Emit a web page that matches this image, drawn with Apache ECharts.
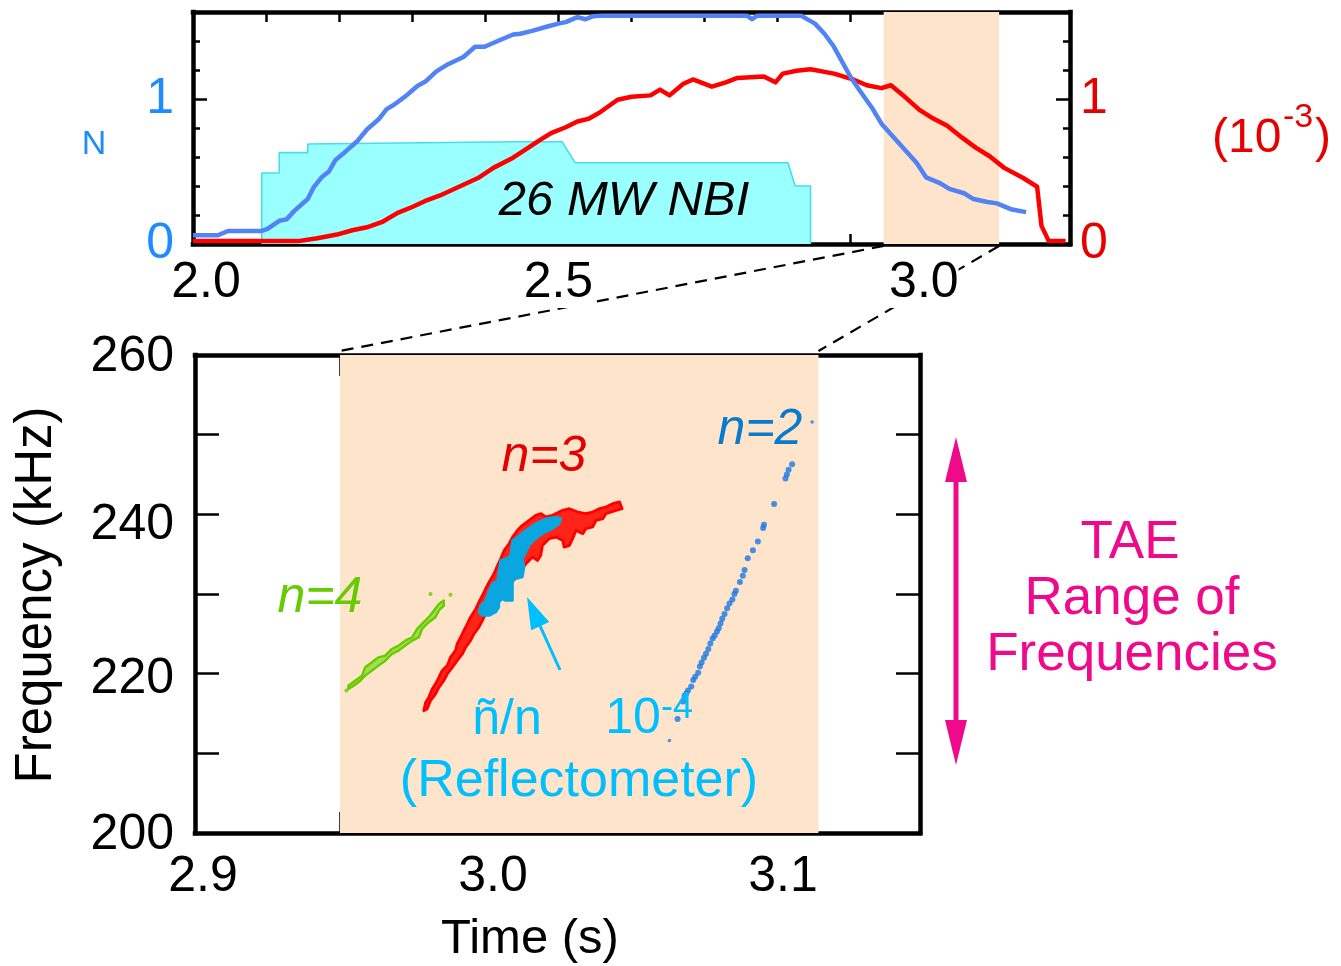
<!DOCTYPE html>
<html><head><meta charset="utf-8">
<script src="https://cdn.jsdelivr.net/npm/echarts@6.0.0/dist/echarts.min.js"></script>
<style>html,body{margin:0;padding:0;background:#fff}#c{width:1341px;height:966px}</style>
</head><body><div id="c"></div>
<script>
// ---------- DATA ----------
// Top panel: density N (left axis), red trace (right axis, 10^-3), NBI power outline
const densityTime = [2.000, 2.034, 2.048, 2.094, 2.102, 2.118, 2.128, 2.139, 2.157, 2.165, 2.176, 2.186, 2.195, 2.207, 2.225, 2.238, 2.254, 2.265, 2.275, 2.291, 2.307, 2.318, 2.333, 2.349, 2.370, 2.386, 2.399, 2.417, 2.438, 2.448, 2.464, 2.485, 2.500, 2.510, 2.526, 2.537, 2.547, 2.560, 2.620, 2.700, 2.758, 2.765, 2.772, 2.832, 2.851, 2.864, 2.877, 2.890, 2.900, 2.912, 2.929, 2.942, 2.958, 2.974, 2.990, 3.003, 3.022, 3.035, 3.055, 3.068, 3.087, 3.100, 3.119, 3.140];
const densityVal  = [0.06, 0.06, 0.09, 0.09, 0.105, 0.16, 0.17, 0.23, 0.31, 0.39, 0.46, 0.50, 0.58, 0.63, 0.71, 0.79, 0.86, 0.93, 0.96, 1.02, 1.09, 1.12, 1.19, 1.24, 1.29, 1.36, 1.36, 1.40, 1.445, 1.45, 1.47, 1.50, 1.52, 1.53, 1.565, 1.55, 1.57, 1.575, 1.575, 1.575, 1.575, 1.55, 1.575, 1.575, 1.52, 1.45, 1.36, 1.24, 1.15, 1.06, 0.94, 0.83, 0.74, 0.65, 0.56, 0.46, 0.42, 0.38, 0.35, 0.31, 0.29, 0.28, 0.24, 0.22];

const redTime = [2.000, 2.144, 2.170, 2.197, 2.218, 2.238, 2.260, 2.280, 2.300, 2.317, 2.338, 2.364, 2.390, 2.411, 2.438, 2.459, 2.474, 2.490, 2.510, 2.526, 2.542, 2.556, 2.581, 2.600, 2.626, 2.639, 2.652, 2.671, 2.684, 2.710, 2.729, 2.745, 2.781, 2.797, 2.807, 2.826, 2.845, 2.877, 2.903, 2.922, 2.942, 2.955, 2.974, 2.994, 3.013, 3.032, 3.052, 3.071, 3.090, 3.110, 3.136, 3.155, 3.161, 3.171, 3.194];
const redVal  = [0.02, 0.02, 0.04, 0.065, 0.095, 0.115, 0.155, 0.215, 0.255, 0.295, 0.335, 0.395, 0.455, 0.525, 0.595, 0.665, 0.715, 0.765, 0.805, 0.845, 0.865, 0.905, 0.995, 1.015, 1.025, 1.065, 1.025, 1.105, 1.135, 1.085, 1.115, 1.145, 1.155, 1.115, 1.175, 1.195, 1.205, 1.175, 1.135, 1.095, 1.075, 1.095, 1.015, 0.925, 0.865, 0.815, 0.735, 0.665, 0.605, 0.525, 0.455, 0.395, 0.125, 0.02, 0.02];

const nbiTime = [2.094, 2.094, 2.118, 2.118, 2.157, 2.157, 2.440, 2.505, 2.523, 2.814, 2.824, 2.845, 2.845];
const nbiVal  = [0, 0.49, 0.49, 0.63, 0.63, 0.69, 0.705, 0.705, 0.56, 0.56, 0.40, 0.40, 0];

const topShade = [2.945, 3.103];
const bottomShade = [2.950, 3.115];

// Bottom panel: mode traces (time s, frequency kHz)
const n4Time = [2.9529,2.9552,2.9576,2.9587,2.9610,2.9633,2.9656,2.9679,2.9702,2.9725,2.9749,2.9766,2.9783,2.9806,2.9824,2.9841,2.9858,2.9858,2.9841,2.9829,2.9806,2.9783,2.9772,2.9749,2.9725,2.9702,2.9679,2.9656,2.9633,2.9610,2.9587,2.9570,2.9547,2.9529];
const n4Freq = [218.49,219.12,219.75,220.80,221.43,222.05,222.26,223.10,223.52,224.15,224.57,225.62,226.25,227.09,227.93,228.76,229.18,228.55,227.93,227.09,226.46,225.62,224.57,224.15,223.52,222.89,222.47,221.63,221.01,220.38,219.75,219.12,218.49,218.07];
const n4DotTime = [2.9522, 2.9812, 2.9881];
const n4DotFreq = [217.9, 230.0, 229.9];

const n3Time = [2.9789,2.9795,2.9806,2.9818,2.9829,2.9841,2.9852,2.9870,2.9881,2.9898,2.9904,2.9916,2.9927,2.9939,2.9950,2.9968,2.9979,2.9991,3.0002,3.0014,3.0031,3.0043,3.0054,3.0066,3.0083,3.0095,3.0112,3.0129,3.0152,3.0175,3.0193,3.0210,3.0233,3.0268,3.0291,3.0320,3.0348,3.0371,3.0394,3.0417,3.0440,3.0464,3.0473,3.0452,3.0417,3.0406,3.0383,3.0371,3.0348,3.0337,3.0314,3.0302,3.0291,3.0273,3.0268,3.0245,3.0221,3.0198,3.0192,3.0181,3.0164,3.0152,3.0141,3.0123,3.0106,3.0089,3.0071,3.0054,3.0037,3.0020,3.0002,2.9991,2.9979,2.9962,2.9950,2.9933,2.9922,2.9904,2.9887,2.9870,2.9858,2.9841,2.9829,2.9812,2.9800];
const n3Freq = [215.35,216.39,217.02,218.07,218.70,219.54,220.38,221.01,222.05,222.89,223.73,224.57,225.41,226.25,227.09,228.12,228.97,229.81,230.65,231.49,232.54,233.58,234.42,235.47,236.31,237.15,237.99,238.62,239.25,239.87,240.08,239.67,239.87,240.50,240.71,240.29,240.08,240.29,240.71,240.92,241.34,241.55,240.71,240.50,240.08,239.45,239.25,238.41,238.20,237.57,237.99,236.94,236.10,235.89,236.73,237.15,236.94,236.10,234.84,234.21,234.63,234.21,233.79,232.96,232.12,231.28,230.44,229.39,228.76,228.12,227.50,226.67,225.83,224.99,224.15,223.31,222.47,221.63,220.80,219.96,219.12,218.28,217.44,216.60,215.55];

const reflTime = [2.9979,2.9985,3.0002,3.0014,3.0025,3.0043,3.0048,3.0054,3.0071,3.0089,3.0092,3.0095,3.0112,3.0141,3.0175,3.0210,3.0245,3.0262,3.0256,3.0233,3.0198,3.0175,3.0152,3.0141,3.0129,3.0135,3.0129,3.0106,3.0095,3.0095,3.0095,3.0071,3.0060,3.0048,3.0048,3.0037,3.0014,2.9991];
const reflFreq = [227.71,228.55,229.18,230.44,231.28,231.70,232.96,234.21,234.42,234.84,236.10,236.73,237.15,237.99,238.83,239.45,239.66,239.45,238.83,238.20,237.57,236.94,236.10,235.26,234.42,233.38,232.12,231.91,231.70,230.44,229.18,229.18,229.39,228.97,228.34,227.71,227.29,227.29];

const n2Time = [3.0636,3.0664,3.0683,3.0688,3.0694,3.0700,3.0711,3.0718,3.0725,3.0735,3.0741,3.0747,3.0755,3.0762,3.0770,3.0777,3.0785,3.0792,3.0800,3.0806,3.0812,3.0818,3.0826,3.0835,3.0843,3.0853,3.0860,3.0865,3.0879,3.0889,3.0895,3.0906,3.0924,3.0941,3.0959,3.0962,3.0997,3.1036,3.1041,3.1047,3.1059,3.1128];
const n2Freq = [211.6,214.3,216.5,217.2,217.5,217.9,218.4,219.2,219.6,220.1,220.9,221.4,222.0,222.5,223.1,223.8,224.4,224.8,225.3,225.7,226.3,226.9,227.5,228.2,228.8,229.3,230.0,230.4,231.5,232.3,233.0,234.5,235.5,236.6,238.3,238.7,241.3,244.5,245.0,245.6,246.3,251.6];

// Tick labels
const topXLabels = ['2.0', '2.5', '3.0'];
const topYLabels = ['0', '1'];
const bottomXLabels = ['2.9', '3.0', '3.1'];
const freqLabels = ['200', '220', '240', '260'];

// ---------- CHART ----------
const FONT = '"Liberation Sans", Arial, Helvetica, sans-serif';
const zip = (a, b) => a.map((v, i) => [v, b[i]]);
const chart = echarts.init(document.getElementById('c'), null, {renderer: 'canvas'});

const frameLine = {show: true, onZero: false, lineStyle: {color: '#000', width: 4.5, cap: 'square'}};
const noSplit = {show: false};
// vertical nudges of the frequency labels, as placed in the original figure (style only)
const freqLabelStyle = {'200': 'a', '220': 'b', '240': 'c', '260': 'a'};

function xAx(grid, pos, min, max, interval, tickLen, label) {
  return {type: 'value', gridIndex: grid, position: pos, min, max, interval,
    axisLine: frameLine, splitLine: noSplit,
    axisTick: {show: true, inside: true, length: tickLen, lineStyle: {color: '#000', width: 2.5}},
    axisLabel: label || {show: false}};
}
function yAx(grid, pos, min, max, interval, tickLen, label, line) {
  return {type: 'value', gridIndex: grid, position: pos, min, max, interval,
    axisLine: line ? frameLine : {show: false}, splitLine: noSplit,
    axisTick: {show: true, inside: true, length: tickLen, lineStyle: {color: '#000', width: 2.5}},
    axisLabel: label || {show: false}};
}

function polySeries(T, F, fill, stroke, lw, z) {
  const pts = zip(T, F);
  return {
    type: 'custom', xAxisIndex: 2, yAxisIndex: 4, z, silent: true,
    data: pts, encode: {x: 0, y: 1},
    renderItem: (params, api) => {
      if (params.dataIndex !== 0) return null;
      return {type: 'polygon', shape: {points: pts.map(p => api.coord(p))},
        style: {fill, stroke, lineWidth: lw, lineJoin: 'round'}};
    }
  };
}

const richNum = (padTop) => ({fontSize: 50, fontFamily: FONT, color: '#000', padding: [padTop, 0, 0, 0]});

const option = {
  animation: false,
  backgroundColor: '#fff',
  grid: [
    {left: 193, top: 12, width: 877, height: 232},
    {left: 195, top: 355, width: 725, height: 478}
  ],
  xAxis: [
    xAx(0, 'bottom', 2.0, 3.2, 0.1, 10, {
      show: true, margin: 14, color: '#000', fontSize: 50, fontFamily: FONT, backgroundColor: '#fff',
      formatter: v => {
        const s = v.toFixed(1);
        if (Math.abs(v * 10 - Math.round(v * 10)) > 1e-6 || !topXLabels.includes(s)) return '';
        return s === '2.0' ? '{l|' + s + '}' : s;
      },
      rich: {l: {fontSize: 50, fontFamily: FONT, color: '#000', padding: [0, 0, 0, 26], backgroundColor: '#fff'}}
    }),
    xAx(0, 'top', 2.0, 3.2, 0.1, 10),
    xAx(1, 'bottom', 2.9, 3.15, 0.05, 21, {
      show: true, margin: 19, color: '#000', fontSize: 50, fontFamily: FONT,
      formatter: v => {
        const s = v.toFixed(2);
        return (s.endsWith('0') && bottomXLabels.includes(v.toFixed(1))) ? '{r|' + v.toFixed(1) + '}' : '';
      },
      rich: {r: {fontSize: 50, fontFamily: FONT, color: '#000', padding: [0, 0, 0, 16]}}
    }),
    xAx(1, 'top', 2.9, 3.15, 0.05, 21)
  ],
  yAxis: [
    yAx(0, 'left', 0, 1.6, 0.2, 7, null, true),
    yAx(0, 'left', 0, 1.6, 1, 14, {show: true, margin: 19, color: '#1E8CFF', fontSize: 50, fontFamily: FONT,
      formatter: v => topYLabels.includes(String(v)) ? String(v) : ''}, false),
    yAx(0, 'right', 0, 1.6, 0.2, 7, null, true),
    yAx(0, 'right', 0, 1.6, 1, 14, {show: true, margin: 10, color: '#E60000', fontSize: 50, fontFamily: FONT,
      formatter: v => topYLabels.includes(String(v)) ? String(v) : ''}, false),
    yAx(1, 'left', 200, 260, 10, 24, {show: true, margin: 21, color: '#000', fontSize: 50, fontFamily: FONT,
      formatter: v => {
        const s = String(v);
        return freqLabels.includes(s) ? '{' + freqLabelStyle[s] + '|' + s + '}' : '';
      },
      rich: {a: richNum(5), b: richNum(12), c: richNum(21)}}, true),
    yAx(1, 'right', 200, 260, 10, 24, null, true)
  ],
  series: [
    // top shaded window
    {type: 'line', xAxisIndex: 0, yAxisIndex: 0, data: [], z: 1, silent: true,
      markArea: {silent: true, itemStyle: {color: '#FDE4CB'}, data: [[{xAxis: topShade[0]}, {xAxis: topShade[1]}]]}},
    // NBI power
    {type: 'line', xAxisIndex: 0, yAxisIndex: 0, data: zip(nbiTime, nbiVal), symbol: 'none', z: 2, silent: true,
      lineStyle: {color: '#48DCEE', width: 1.6}, areaStyle: {color: '#99FFFF', opacity: 1}},
    // red trace
    {type: 'line', xAxisIndex: 0, yAxisIndex: 2, data: zip(redTime, redVal), symbol: 'none', z: 3, silent: true,
      lineStyle: {color: '#FF0000', width: 4.5, join: 'round'}},
    // density
    {type: 'line', xAxisIndex: 0, yAxisIndex: 0, data: zip(densityTime, densityVal), symbol: 'none', z: 4, silent: true,
      lineStyle: {color: '#5283F5', width: 4.5, join: 'round'}},
    // bottom shaded window
    {type: 'line', xAxisIndex: 2, yAxisIndex: 4, data: [], z: 1, silent: true,
      markArea: {silent: true, itemStyle: {color: '#FDE4CB'}, data: [[{xAxis: bottomShade[0]}, {xAxis: bottomShade[1]}]]}},
    polySeries(n4Time, n4Freq, '#A6DB55', '#66CC00', 2.4, 3),
    {type: 'scatter', xAxisIndex: 2, yAxisIndex: 4, data: zip(n4DotTime, n4DotFreq), symbolSize: 4, z: 3, silent: true,
      itemStyle: {color: '#66CC00'}},
    polySeries(n3Time, n3Freq, '#FF2418', '#FF0000', 2.8, 3),
    polySeries(reflTime, reflFreq, '#0AA6E0', '#0AA6E0', 2.5, 4),
    {type: 'scatter', xAxisIndex: 2, yAxisIndex: 4, data: zip(n2Time, n2Freq), z: 4, silent: true,
      symbolSize: (v, p) => (p.dataIndex === 0 || p.dataIndex === n2Time.length - 1) ? 3.5 : 6,
      itemStyle: {color: '#1878E8'}}
  ]
};
chart.setOption(option);

// ---------- ANNOTATIONS ----------
function txt(text, x, y, size, color, o) {
  o = o || {};
  const al = o.align || 'center';
  return {type: 'text', x, y, z: 100, rotation: o.rotation || 0, silent: true,
    style: {text, x: 0, y: 0, fill: color, font: (o.italic ? 'italic ' : '') + size + 'px ' + FONT,
      textAlign: al, align: al, textVerticalAlign: 'middle', verticalAlign: 'middle'}};
}
function arrow(x1, y1, x2, y2, headLen, headHalf, lw, color) {
  const dx = x2 - x1, dy = y2 - y1, L = Math.hypot(dx, dy), ux = dx / L, uy = dy / L;
  const bx = x2 - ux * headLen, by = y2 - uy * headLen, nx = -uy, ny = ux;
  return [
    {type: 'line', z: 100, silent: true, shape: {x1, y1, x2: bx + ux * 2, y2: by + uy * 2}, style: {stroke: color, lineWidth: lw}},
    {type: 'polygon', z: 100, silent: true, shape: {points: [[x2, y2], [bx + nx * headHalf, by + ny * headHalf], [bx - nx * headHalf, by - ny * headHalf]]}, style: {fill: color}}
  ];
}

const tl = chart.convertToPixel({xAxisIndex: 0, yAxisIndex: 0}, [topShade[0], 0]);
const tr = chart.convertToPixel({xAxisIndex: 0, yAxisIndex: 0}, [topShade[1], 0]);
const bl = chart.convertToPixel({xAxisIndex: 2, yAxisIndex: 4}, [bottomShade[0], 260]);
const br = chart.convertToPixel({xAxisIndex: 2, yAxisIndex: 4}, [bottomShade[1], 260]);
const dash = {stroke: '#000', lineWidth: 2.2, lineDash: [12, 8]};

const graphics = [
  {type: 'line', z: -1, silent: true, shape: {x1: tl[0], y1: tl[1] + 2, x2: bl[0], y2: bl[1] - 4}, style: dash},
  {type: 'line', z: -1, silent: true, shape: {x1: tr[0], y1: tr[1] + 2, x2: br[0], y2: br[1] - 4}, style: dash},
  txt('N', 94, 145, 34, '#1E8CFF'),
  txt('(10', 1212, 139, 48, '#E60000', {align: 'left'}),
  txt('-3', 1283, 118, 34, '#E60000', {align: 'left'}),
  txt(')', 1315, 139, 48, '#E60000', {align: 'left'}),
  txt('26 MW NBI', 624, 201, 49, '#000', {italic: true}),
  txt('Frequency (kHz)', 37, 595, 51, '#000', {rotation: Math.PI / 2}),
  txt('Time (s)', 530, 939, 49, '#000'),
  txt('n=4', 320, 598, 50, '#66CC00', {italic: true}),
  txt('n=3', 544, 457, 50, '#E60000', {italic: true}),
  txt('n=2', 760, 430, 50, '#0A7ACC', {italic: true}),
  txt('\u00F1/n', 507, 720, 50, '#00BFFF'),
  txt('10', 633, 719, 50, '#00BFFF'),
  txt('-4', 677, 708, 36, '#00BFFF'),
  txt('(Reflectometer)', 579, 782, 52, '#00BFFF'),
  txt('TAE', 1130, 543, 53, '#EE0A8A'),
  txt('Range of', 1132, 599, 53, '#EE0A8A'),
  txt('Frequencies', 1132, 655, 53, '#EE0A8A')
]
  .concat(arrow(560, 670, 527, 597, 32, 10, 3, '#00BFFF'))
  .concat(arrow(956, 600, 956, 437, 45, 11, 5, '#EE0A8A'))
  .concat(arrow(956, 600, 956, 765, 45, 11, 5, '#EE0A8A'));

chart.setOption({graphic: graphics});
</script></body></html>
